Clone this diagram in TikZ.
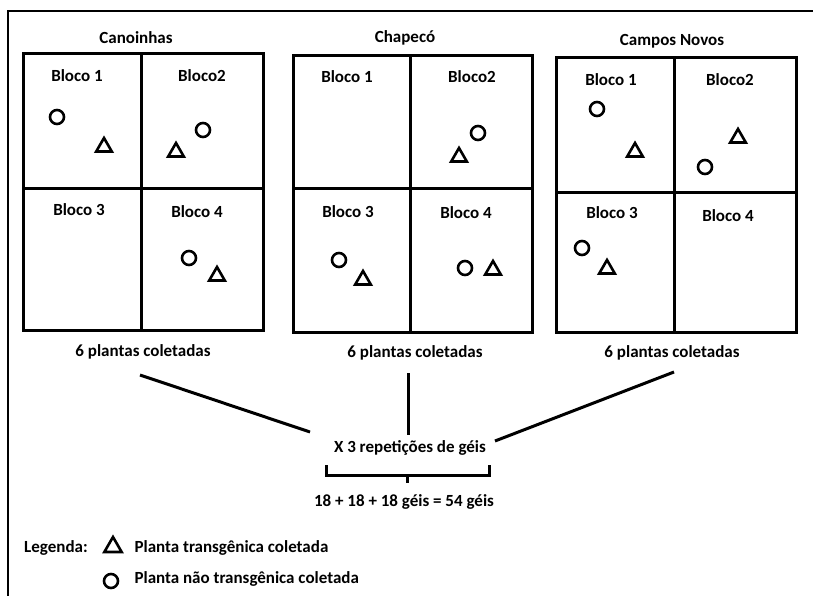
\documentclass[tikz,border=0pt]{standalone}
\usepackage{fontspec}
\setmainfont{Carlito}
\usetikzlibrary{shapes.geometric}
\tikzset{
  box/.style={line width=3pt},
  link/.style={line width=3pt},
  lbl/.style={font=\fontsize{17}{19}\selectfont\bfseries},
  plant/.style={draw, circle, line width=2.6pt, minimum size=14pt, inner sep=0pt},
  gmo/.style={draw, regular polygon, regular polygon sides=3, line width=2.6pt, minimum size=18pt, inner sep=0pt},
}
\begin{document}
\begin{tikzpicture}[x=1pt,y=-1pt]
\useasboundingbox (0,0) rectangle (813,596);
\draw[line width=2.2pt] (8,600) -- (8,11) -- (815,11);

% Canoinhas
\node[lbl] (can) at (136,38) {Canoinhas};
\draw[box] (23,54) rectangle (263,330);
\draw[box] (141,54) -- (141,330);
\draw[box] (23,188) -- (263,188);
\node[lbl] (can1) at (77,76) {Bloco 1};
\node[lbl] (can2) at (202,76) {Bloco2};
\node[lbl] (can3) at (79,210) {Bloco 3};
\node[lbl] (can4) at (197,212) {Bloco 4};
\node[plant] (can1c) at (57,117) {};
\node[gmo] (can1t) at (104,147) {};
\node[plant] (can2c) at (203,130) {};
\node[gmo] (can2t) at (176,152) {};
\node[plant] (can4c) at (189,258) {};
\node[gmo] (can4t) at (217,276) {};
\node[lbl] (canN) at (143,352) {6 plantas coletadas};

%-------------------------------------
% Chapeco
\node[lbl] (cha) at (405,38) {Chapecó};
\draw[box] (293,56) rectangle (532,332);
\draw[box] (410,56) -- (410,332);
\draw[box] (293,188) -- (532,188);
\node[lbl] (cha1) at (347,77) {Bloco 1};
\node[lbl] (cha2) at (472,77) {Bloco2};
\node[lbl] (cha3) at (348,212) {Bloco 3};
\node[lbl] (cha4) at (466,213) {Bloco 4};
\node[plant] (cha2c) at (478,133) {};
\node[gmo] (cha2t) at (459,157) {};
\node[plant] (cha3c) at (339,260) {};
\node[gmo] (cha3t) at (363,280) {};
\node[plant] (cha4c) at (465,268) {};
\node[gmo] (cha4t) at (493,270) {};
\node[lbl] (chaN) at (415,353) {6 plantas coletadas};

%-------------------------------------
% Campos Novos
\node[lbl] (cam) at (672,41) {Campos Novos};
\draw[box] (556,58) rectangle (796,332);
\draw[box] (674,58) -- (674,332);
\draw[box] (556,192) -- (796,192);
\node[lbl] (cam1) at (611,80) {Bloco 1};
\node[lbl] (cam2) at (730,80) {Bloco2};
\node[lbl] (cam3) at (612,213) {Bloco 3};
\node[lbl] (cam4) at (728,216) {Bloco 4};
\node[plant] (cam1c) at (597,109) {};
\node[gmo] (cam1t) at (635,152) {};
\node[gmo] (cam2t) at (738,138) {};
\node[plant] (cam2c) at (705,167) {};
\node[plant] (cam3c) at (582,248) {};
\node[gmo] (cam3t) at (607,269) {};
\node[lbl] (camN) at (672,353) {6 plantas coletadas};

%-------------------------------------
% total
\node[lbl] (rep) at (410,448) {X 3 repetições de géis};
\node[lbl] (tot) at (404,502) {18 + 18 + 18 géis = 54 géis};
\coordinate (canE) at (140,375);
\coordinate (chaE) at (408,373);
\coordinate (camE) at (674,372);
\coordinate (repW) at (310,432);
\coordinate (repN) at (408,435);
\coordinate (repE) at (495,441);
\draw[link] (canE) -- (repW);
\draw[link] (chaE) -- (repN);
\draw[link] (camE) -- (repE);
\coordinate (brL) at (326,465);
\coordinate (brR) at (489,465);
\coordinate (brM) at (407,475);
\coordinate (brS) at (407,483);
\draw[link] (brL) -- (326,475) -- (489,475) -- (brR);
\draw[link] (brM) -- (brS);

%-------------------------------------
% legenda
\node[lbl] (leg) at (56,548) {Legenda:};
\node[gmo, minimum size=20pt] (legT) at (113,547) {};
\node[plant] (legC) at (111,581) {};
\node[lbl, anchor=west] (legTt) at (131,548) {Planta transgênica coletada};
\node[lbl, anchor=west] (legCt) at (131,579) {Planta não transgênica coletada};
\end{tikzpicture}
\end{document}
